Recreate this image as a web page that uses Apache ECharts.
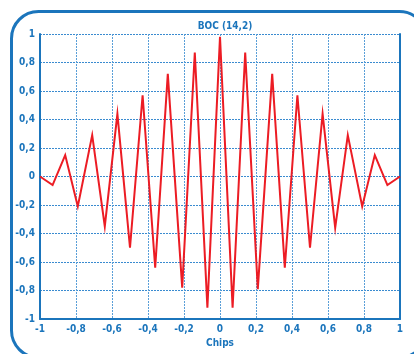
<!DOCTYPE html>
<html><head><meta charset="utf-8">
<script src="https://cdn.jsdelivr.net/npm/echarts@6/dist/echarts.min.js"></script>
<style>html,body{margin:0;padding:0;background:#fff}#c{width:414px;height:354px}</style>
</head><body><div id="c"></div>
<script>
var title = 'BOC (14,2)';
var xLabel = 'Chips';
var chips = [-1, -0.93, -0.86, -0.79, -0.71, -0.64, -0.57, -0.5, -0.43, -0.36, -0.29, -0.21, -0.14, -0.07, 0,
             0.07, 0.14, 0.21, 0.29, 0.36, 0.43, 0.5, 0.57, 0.64, 0.71, 0.79, 0.86, 0.93, 1];
var corr = [0, -0.06, 0.15, -0.21, 0.29, -0.35, 0.44, -0.5, 0.57, -0.64, 0.72, -0.78, 0.87, -0.92, 0.98,
            -0.92, 0.87, -0.79, 0.72, -0.64, 0.57, -0.5, 0.44, -0.36, 0.29, -0.21, 0.15, -0.06, 0];

var BLUE = '#1b75bc';
var FONT = "'Liberation Sans Narrow', 'DejaVu Sans Condensed', 'Liberation Sans', sans-serif";
function fmt(v){ var r = Math.round(v*10)/10; if (r === 0) r = 0; return String(r).replace('.', ','); }

var chart = echarts.init(document.getElementById('c'), null, {renderer:'canvas'});
chart.setOption({
  animation: false,
  backgroundColor: '#fff',
  title: { text: title, left: 220, top: 16, textAlign: 'center',
    textStyle: { fontFamily: FONT, fontSize: 10, fontWeight: 'bold', color: BLUE } },
  graphic: [{ type: 'rect', left: 9, top: 9, shape: { x: 0, y: 0, width: 415, height: 346, r: 27 },
    style: { fill: 'none', stroke: BLUE, lineWidth: 3 }, silent: true, z: -1 }],
  grid: { left: 40, right: 14, top: 34, bottom: 35 },
  xAxis: {
    type: 'value', min: -1, max: 1, interval: 0.2,
    name: xLabel, nameLocation: 'middle', nameGap: 17,
    nameTextStyle: { fontFamily: FONT, fontSize: 10, fontWeight: 'bold', color: BLUE },
    axisLine: { onZero: false, lineStyle: { color: BLUE, width: 2 } },
    axisTick: { show: false },
    axisLabel: { formatter: fmt, fontFamily: FONT, fontSize: 10, fontWeight: 'bold', color: BLUE, margin: 5 },
    splitLine: { show: true, lineStyle: { color: '#5a9fd8', type: [2, 1], width: 1 } }
  },
  yAxis: [{
    type: 'value', min: -1, max: 1, interval: 0.2,
    axisLine: { show: true, onZero: false, lineStyle: { color: BLUE, width: 2 } },
    axisTick: { show: false },
    axisLabel: { formatter: fmt, fontFamily: FONT, fontSize: 10, fontWeight: 'bold', color: BLUE, margin: 5 },
    splitLine: { show: true, lineStyle: { color: '#3a8bd0', type: [2, 1], width: 1 } }
  }, {
    type: 'value', min: -1, max: 1, interval: 0.2, position: 'right',
    axisLine: { show: true, onZero: false, lineStyle: { color: BLUE, width: 2 } },
    axisTick: { show: false }, axisLabel: { show: false }, splitLine: { show: false }
  }],
  series: [{
    type: 'line', yAxisIndex: 0,
    data: chips.map(function(x, i){ return [x, corr[i]]; }),
    showSymbol: false, symbol: 'none',
    lineStyle: { color: '#ec1c24', width: 2, join: 'miter' }
  }]
});
</script></body></html>
